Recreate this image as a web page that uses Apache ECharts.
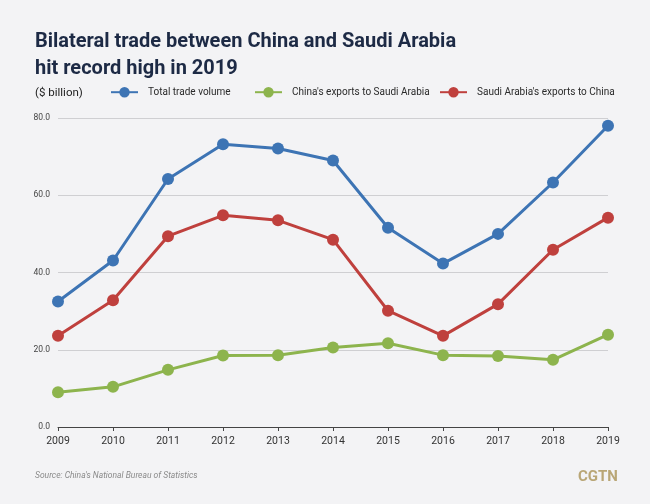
<!DOCTYPE html>
<html><head><meta charset="utf-8">
<script src="https://cdn.jsdelivr.net/npm/echarts@6/dist/echarts.min.js"></script>
<style>html,body{margin:0;padding:0;background:#f3f3f5}#c{width:650px;height:504px}</style>
</head><body><div id="c"></div>
<script>
const years = ['2009','2010','2011','2012','2013','2014','2015','2016','2017','2018','2019'];
const totalTrade = [32.5, 43.1, 64.2, 73.2, 72.1, 69.0, 51.6, 42.3, 50.0, 63.3, 78.0];
const chinaExports = [9.0, 10.4, 14.8, 18.5, 18.6, 20.6, 21.7, 18.6, 18.4, 17.4, 23.9];
const saudiExports = [23.6, 32.8, 49.4, 54.8, 53.5, 48.5, 30.1, 23.6, 31.8, 45.9, 54.2];
const yTicks = [0, 20, 40, 60, 80];
const names = ['Total trade volume', "China's exports to Saudi Arabia", "Saudi Arabia's exports to China"];
const colors = ['#3d74b4', '#8db44d', '#bf403d'];

const chart = echarts.init(document.getElementById('c'), null, {renderer: 'canvas'});
const font = '"Roboto", "Liberation Sans", sans-serif';
function mkSeries(name, data, color) {
  return {
    name, type: 'line', data, symbol: 'circle', symbolSize: 12,
    lineStyle: {width: 3, color}, itemStyle: {color},
    emphasis: {disabled: true}, animation: false
  };
}
function mkLegend(name, left) {
  return {
    data: [name], left, top: 87, padding: 0, itemWidth: 27, itemHeight: 13, itemGap: 8,
    textStyle: {fontFamily: font, fontSize: 10, color: '#2a2a2a', padding: [0, 0, 0, 5]},
    selectedMode: false
  };
}
chart.setOption({
  backgroundColor: '#f3f3f5',
  animation: false,
  title: [{
    text: 'Bilateral trade between China and Saudi Arabia\nhit record high in 2019',
    left: 30, top: 23,
    textStyle: {fontFamily: font, fontWeight: 'bold', fontSize: 20, lineHeight: 27, color: '#1d2a45'}
  }, {
    text: '($ billion)', left: 30, top: 82,
    textStyle: {fontFamily: font, fontWeight: 'normal', fontSize: 11.5, color: '#222'}
  }, {
    text: "Source: China's National Bureau of Statistics", left: 30, top: 466,
    textStyle: {fontFamily: font, fontStyle: 'italic', fontWeight: 'normal', fontSize: 8.5, color: '#8a8a8a'}
  }, {
    text: 'CGTN', left: 573, top: 465,
    textStyle: {fontFamily: font, fontWeight: 'bold', fontSize: 15, color: '#b9a676'}
  }],
  legend: [mkLegend(names[0], 110), mkLegend(names[1], 254), mkLegend(names[2], 439)],
  grid: {left: 58, right: 42, top: 118, bottom: 77},
  xAxis: {
    type: 'category', data: years, boundaryGap: false,
    axisLine: {lineStyle: {color: '#444', width: 1}},
    axisTick: {alignWithLabel: true, length: 4, lineStyle: {color: '#444'}},
    axisLabel: {fontFamily: font, fontSize: 10.5, color: '#333', margin: 9}
  },
  yAxis: {
    type: 'value', min: yTicks[0], max: yTicks[yTicks.length - 1], interval: 20,
    axisLine: {show: false}, axisTick: {show: false},
    splitLine: {lineStyle: {color: '#cfcfd2', width: 1}},
    axisLabel: {fontFamily: font, fontSize: 8.5, color: '#444', margin: 8,
      formatter: v => v.toFixed(1)}
  },
  series: [
    mkSeries(names[0], totalTrade, colors[0]),
    mkSeries(names[1], chinaExports, colors[1]),
    mkSeries(names[2], saudiExports, colors[2])
  ]
});
</script></body></html>
